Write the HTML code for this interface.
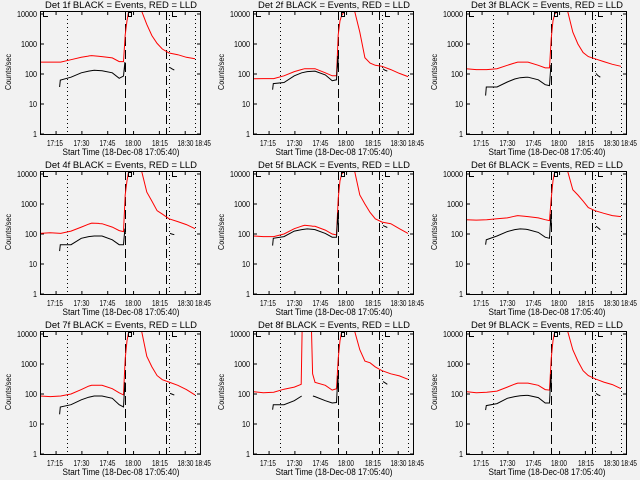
<!DOCTYPE html>
<html><head><meta charset="utf-8"><style>
html,body{margin:0;padding:0;background:#f2f2f2;}
svg{display:block;font-family:"Liberation Sans",sans-serif;}
</style></head><body>
<svg id="chart" width="640" height="480" viewBox="0 0 640 480">
<rect x="0" y="0" width="640" height="480" fill="#f2f2f2"/>
</svg>
<script>
// time samples in minutes since 17:05:40
const redTimes = [0, 6, 12, 18, 24, 28, 28.5, 30, 34, 34.6, 36, 42, 46, 48.5, 49.5, 50.5, 51.5, 53, 57, 59, 62, 65, 68, 71, 75, 80, 85, 90];
const blackTimes = [11.4, 11.8, 18, 24, 28.3, 31.5, 34.8, 36, 42, 46, 48.5, 49.3, 49.6];
const blackTimes2 = [75.5, 76.5, 78];
const detectors = ["1f","2f","3f","4f","5f","6f","7f","8f","9f"];
const red1 = [250,250,250,300,360,395,400,410,390,385,380,345,260,260,2000,6000,20000,20000,20000,15000,4500,1900,1050,680,500,440,360,320];
const red2 = [69,70,70,87,120,140,142,150,150,150,150,110,87,87,2000,6000,9000,12000,20000,14000,2500,350,230,195,180,140,105,82];
const red3 = [150,140,140,150,195,230,235,250,250,250,250,195,160,160,1500,6000,10000,12000,20000,15000,2500,1000,520,380,320,260,210,180];
const red4 = [105,110,105,125,170,210,215,230,225,222,220,170,130,120,2000,6000,20000,20000,20000,15000,2500,1250,600,460,320,260,205,150];
const red5 = [86,82,82,100,150,180,185,195,185,182,180,135,100,93,1500,6000,10000,12000,20000,15000,2000,1000,520,320,250,220,150,105];
const red6 = [300,290,300,320,345,390,395,410,390,385,380,345,300,280,1500,6000,12000,20000,20000,15000,3000,2000,1250,760,600,490,410,380];
const red7 = [86,82,86,100,140,180,185,195,195,195,195,150,110,93,1500,6000,12000,20000,20000,15000,1800,800,410,300,250,195,140,93];
const red8 = [120,110,115,145,170,210,20000,20000,20000,470,245,195,135,150,1500,6000,12000,20000,20000,15000,3000,1250,1100,800,600,470,400,310];
const red9 = [120,110,115,125,170,210,215,230,230,230,230,195,140,135,1500,6000,12000,20000,20000,15000,3000,1250,600,410,320,250,205,150];
const black1 = [37,62,78,110,125,133,130,128,110,72,85,250,120];
const black2 = [30,48,52,87,110,120,124,125,93,60,64,400,150];
const black3 = [19,37,37,54,68,75,78,78,64,44,41,200,150];
const black4 = [27,44,44,72,82,86,86,86,64,44,44,150,100];
const black5 = [41,72,82,125,140,148,142,140,105,78,78,520,200];
const black6 = [44,64,86,120,140,148,143,140,113,78,72,460,180];
const black7 = [21,37,44,64,78,86,86,86,72,44,37,250,120];
const black8 = [30,44,44,60,86,null,86,82,60,50,52,410,150];
const black9 = [29,41,48,72,82,88,90,90,76,50,50,460,150];
const blackSeg1 = [165,150,135];
const blackSeg2 = [150,135,125];
const blackSeg3 = [105,90,78];
const blackSeg4 = [105,100,95];
const blackSeg5 = [190,180,165];
const blackSeg6 = [180,165,140];
const blackSeg7 = [105,100,92];
const blackSeg8 = [260,240,210];
const blackSeg9 = [105,95,88];
const xTickLabels = ["17:15","17:30","17:45","18:00","18:15","18:30","18:45"];
const xTickTimes = [9.33,24.33,39.33,54.33,69.33,84.33];
const yTickLabels = ["1","10","100","1000","10000"];
const yTickValues = [1,10,100,1000,10000];
const vlineTimes = [15.7,49.6,73.2,75.2,90.3];
const vlineStyles = ["dot","dash","dash","dot","dot"];

const reds=[red1,red2,red3,red4,red5,red6,red7,red8,red9];
const blacks=[black1,black2,black3,black4,black5,black6,black7,black8,black9];
const segs=[blackSeg1,blackSeg2,blackSeg3,blackSeg4,blackSeg5,blackSeg6,blackSeg7,blackSeg8,blackSeg9];

const NS="http://www.w3.org/2000/svg";
const svg=document.getElementById('chart');
const L=40,R=201,T=11,B=135,TMAX=93.5;
function xs(t){return L+(t/TMAX)*(R-L);}
function ys(v){let y=134-30*Math.log10(v);return Math.max(T,Math.min(B,y));}
function mk(tag,attrs,parent){const e=document.createElementNS(NS,tag);for(const k in attrs)e.setAttribute(k,attrs[k]);parent.appendChild(e);return e;}
function pathFrom(times,vals){let d="",pen=false;for(let i=0;i<times.length;i++){const v=vals[i];if(v===null||v===undefined){pen=false;continue;}d+=(pen?"L":"M")+xs(times[i]).toFixed(1)+" "+ys(v).toFixed(1);pen=true;}return d;}

for(let p=0;p<9;p++){
  const ox=[0,213,426][p%3], oy=[0,160,320][Math.floor(p/3)];
  const g=mk('g',{transform:`translate(${ox},${oy})`},svg);
  
  
  const title=mk('text',{x:121,y:8,'font-size':9,'text-anchor':'middle',textLength:152,lengthAdjust:'spacingAndGlyphs'},g);
  title.textContent=`Det ${detectors[p]} BLACK = Events, RED = LLD`;
  
  
  const clip=mk('clipPath',{id:'c'+p},g);mk('rect',{x:L,y:T,width:R-L,height:B-T},clip);
  yTickValues.forEach((v,i)=>{
    const y=ys(v);
    const s=yTickLabels[i];
    const t=mk('text',{x:37,y:y+3,'font-size':8,'text-anchor':'end',textLength:4*s.length,lengthAdjust:'spacingAndGlyphs'},g);
    t.textContent=s;
    
    
    mk('line',{x1:L,x2:L+4,y1:y,y2:y,stroke:'#000','stroke-width':1},g);
    mk('line',{x1:R-4,x2:R,y1:y,y2:y,stroke:'#000','stroke-width':1},g);
  });
  xTickTimes.forEach(tt=>{
    const x=xs(tt);
    mk('line',{x1:x,x2:x,y1:B,y2:B-4,stroke:'#000'},g);
    mk('line',{x1:x,x2:x,y1:T,y2:T+4,stroke:'#000'},g);
  });
  const xlPos=[55,81.5,107.5,133,160,185.5,203];
  xTickLabels.forEach((s,i)=>{
    const t=mk('text',{x:xlPos[i],y:146,'font-size':8,'text-anchor':'middle',textLength:16,lengthAdjust:'spacingAndGlyphs'},g);
    t.textContent=s;
    
    
  });
  const xt=mk('text',{x:121,y:155,'font-size':9,'text-anchor':'middle',textLength:117,lengthAdjust:'spacingAndGlyphs'},g);
  xt.textContent='Start Time (18-Dec-08 17:05:40)';
  
  
  const yt=mk('text',{x:0,y:0,'font-size':8,'text-anchor':'middle',transform:'translate(11,72) rotate(-90)',textLength:36,lengthAdjust:'spacingAndGlyphs'},g);
  yt.textContent='Counts/sec';
  
  
  vlineTimes.forEach((tt,i)=>{
    const x=Math.round(xs(tt))+0.5;
    const ln=mk('line',{x1:x,x2:x,y1:T,y2:B,stroke:'#000','stroke-width':1,'stroke-dasharray':vlineStyles[i]==='dot'?'1 3':'9 4'},g);
    
    
  });
  const cg=mk('g',{'clip-path':`url(#c${p})`},g);
  const rp=mk('path',{d:pathFrom(redTimes,reds[p]),fill:'none',stroke:'#ff0000','stroke-width':1},cg);
  
  
  const bp=mk('path',{d:pathFrom(blackTimes,blacks[p]),fill:'none',stroke:'#000','stroke-width':1},cg);
  
  
  const bp2=mk('path',{d:pathFrom(blackTimes2,segs[p]),fill:'none',stroke:'#000','stroke-width':1},cg);
  
  
  mk('path',{d:'M43.5 11V16.5H48',fill:'none',stroke:'#000'},g);
  mk('path',{d:'M172.5 11V16.5H177',fill:'none',stroke:'#000'},g);
  mk('path',{d:'M128.5 12.5H131.5V16.5H128.5Z',fill:'none',stroke:'#000'},g);
  const box=mk('rect',{x:L+0.5,y:T+0.5,width:R-L-1,height:B-T-1,fill:'none',stroke:'#000','stroke-width':1},g);
  
  
}
</script>
</body></html>
